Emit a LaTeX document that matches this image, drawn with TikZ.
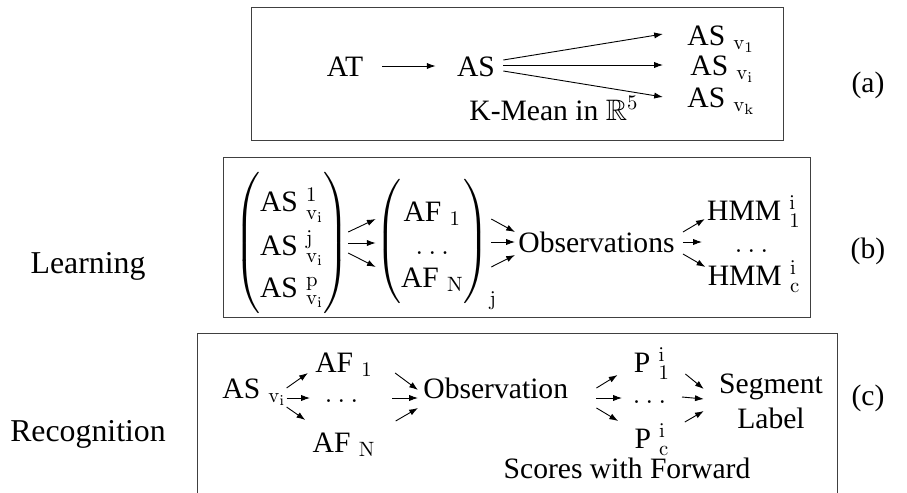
\RequirePackage{fix-cm}
\documentclass[tikz,border=0pt]{standalone}
\usepackage{amsmath,amssymb}
\usepackage[no-math]{fontspec}
\setmainfont{Liberation Serif}
\usetikzlibrary{arrows.meta}

\newcommand{\vsub}[1]{\mathrm{v}_\mathrm{#1}}

\begin{document}
\begin{tikzpicture}[
        x=0.5pt, y=-0.5pt,
        font=\fontsize{14.8}{16.5}\selectfont,
        lbl/.style={inner sep=0pt, anchor=base},
        side/.style={lbl, font=\fontsize{15.9}{18}\selectfont},
        frame/.style={draw=black!75, line width=0.5pt},
        arr/.style={-{Latex[length=4.4pt,width=3.1pt]}, line width=0.45pt}
      ]
        \useasboundingbox (0,0) rectangle (907,493);
        \draw[frame] (251,7) rectangle (783,140);
        \draw[frame] (223,157) rectangle (810,317);
        \draw[frame] (197,493) -- (197,333) -- (837,333) -- (837,493);

        \node[lbl] (at) at (345,76) {AT};
        \node[lbl] (as) at (476,76) {AS};
        \node[lbl, anchor=base west] (asv1) at (687,45) {AS$\;_{\vsub{1}}$};
        \node[lbl, anchor=base west] (asvi) at (690,75) {AS$\;_{\vsub{i}}$};
        \node[lbl, anchor=base west] (asvk) at (687,107) {AS$\;_{\vsub{k}}$};
        \node[lbl] (kmean) at (554,120) {K-Mean in $\mathbb{R}^5$};
        \node[lbl] (la) at (868,92) {(a)};
        \draw[arr] ([shift={(19,-10)}]at.base east) -- ([shift={(-21,-10)}]as.base west);
        \draw[arr] ([shift={(8,-16)}]as.base east) -- ([shift={(-24,-11)}]asv1.base west);
        \draw[arr] ([shift={(8,-11)}]as.base east) -- ([shift={(-27,-10)}]asvi.base west);
        \draw[arr] ([shift={(8,-5)}]as.base east) -- ([shift={(-24,-10)}]asvk.base west);

        \node[side] (learn) at (88,273) {Learning};
        \node[inner sep=0pt] (lm) at (292,243) {$\begin{pmatrix}
            \rule{0pt}{19.5pt}\text{AS}\;{}^{1}_{\vsub{i}}\\[4.5pt]
            \text{AS}\;{}^{\mathrm{j}}_{\vsub{i}}\\[4.5pt]
            \rule[-8pt]{0pt}{8pt}\text{AS}\;{}^{\mathrm{p}}_{\vsub{i}}
          \end{pmatrix}$};
        \node[inner sep=0pt] (mm) at (436,244) {$\begin{pmatrix}
            \rule{0pt}{21.5pt}\text{AF}\;{}_{1}\\
            \dots\\
            \rule[-8.5pt]{0pt}{8.5pt}\text{AF}\;{}_{\mathrm{N}}
          \end{pmatrix}_{\mathrm{j}}$};
        \node[lbl, anchor=base west] (obs) at (518,252) {Observations};
        \node[lbl] (hmm1) at (754,220) {HMM$\;^{\mathrm{i}}_{1}$};
        \node[lbl] (hdots) at (754,252) {$\dots$};
        \node[lbl] (hmmc) at (754,285) {HMM$\;^{\mathrm{i}}_{\mathrm{c}}$};
        \node[lbl] (lb) at (868,258) {(b)};
        \draw[arr] ([shift={(-2,-11)}]lm.east) -- ([shift={(1,-25)}]mm.west);
        \draw[arr] ([shift={(-2,0)}]lm.east) -- ([shift={(1,-1)}]mm.west);
        \draw[arr] ([shift={(-2,10)}]lm.east) -- ([shift={(1,23)}]mm.west);
        \draw[arr] ([shift={(-6,-25)}]mm.east) -- ([shift={(-3,-20)}]obs.base west);
        \draw[arr] ([shift={(-6,-2)}]mm.east) -- ([shift={(-3,-10)}]obs.base west);
        \draw[arr] ([shift={(-6,23)}]mm.east) -- ([shift={(-3,3)}]obs.base west);
        \draw[arr] ([shift={(8,-20)}]obs.base east) -- ([shift={(-2,-1)}]hmm1.base west);
        \draw[arr] ([shift={(8,-10)}]obs.base east) -- ([shift={(-52,-10)}]hdots.base);
        \draw[arr] ([shift={(8,2)}]obs.base east) -- ([shift={(-2,-18)}]hmmc.base west);

        \node[side] (recog) at (88,441) {Recognition};
        \node[lbl, anchor=base west] (asv) at (222,398) {AS$\;_{\vsub{i}}$};
        \node[lbl] (af1) at (344,372) {AF$\;_{1}$};
        \node[lbl] (afdots) at (344,402) {$\dots$};
        \node[lbl] (afn) at (344,452) {AF$\;_{\mathrm{N}}$};
        \node[lbl, anchor=base west] (obsc) at (423,398) {Observation};
        \node[lbl] (p1) at (652,372) {P$\;^{\mathrm{i}}_{1}$};
        \node[lbl] (pdots) at (652,403) {$\dots$};
        \node[lbl] (pc) at (652,448) {P$\;^{\mathrm{i}}_{\mathrm{c}}$};
        \node[align=center, inner sep=0pt] (seg) at (771,401) {Segment\\[1pt]Label};
        \node[lbl] (scores) at (627,478) {Scores with Forward};
        \node[lbl] (lc) at (868,405) {(c)};
        \draw[arr] ([shift={(0,-10)}]asv.base east) -- ([shift={(-7,1)}]af1.base west);
        \draw[arr] ([shift={(0,0)}]asv.base east) -- ([shift={(-34,-4)}]afdots.base);
        \draw[arr] ([shift={(0,9)}]asv.base east) -- ([shift={(-7,-32)}]afn.base west);
        \draw[arr] ([shift={(22,1)}]af1.base east) -- ([shift={(-5,-8)}]obsc.base west);
        \draw[arr] ([shift={(48,-4)}]afdots.base) -- ([shift={(-5,0)}]obsc.base west);
        \draw[arr] ([shift={(20,-31)}]afn.base east) -- ([shift={(-5,10)}]obsc.base west);
        \draw[arr] ([shift={(28,-10)}]obsc.base east) -- ([shift={(-16,3)}]p1.base west);
        \draw[arr] ([shift={(28,0)}]obsc.base east) -- ([shift={(-30,-5)}]pdots.base);
        \draw[arr] ([shift={(28,10)}]obsc.base east) -- ([shift={(-16,-27)}]pc.base west);
        \draw[arr] ([shift={(15,2)}]p1.base east) -- ([shift={(-15,-12)}]seg.west);
        \draw[arr] ([shift={(30,-6)}]pdots.base) -- ([shift={(-15,-2)}]seg.west);
        \draw[arr] ([shift={(15,-26)}]pc.base east) -- ([shift={(-15,10)}]seg.west);
      \end{tikzpicture}
\end{document}
